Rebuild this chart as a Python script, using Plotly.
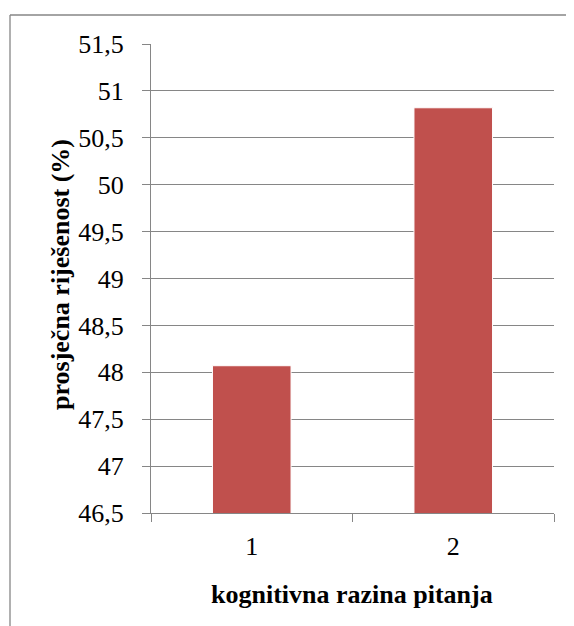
import plotly.graph_objects as go

categories = ["1", "2"]
values = [48.07, 50.82]
y_ticks = [46.5, 47, 47.5, 48, 48.5, 49, 49.5, 50, 50.5, 51, 51.5]
y_tick_labels = ["46,5", "47", "47,5", "48", "48,5", "49", "49,5", "50", "50,5", "51", "51,5"]
x_title = "kognitivna razina pitanja"
y_title = "prosječna riješenost (%)"

OFF = 8  # page body margin
W, H = 574 - OFF, 626 - OFF
L, T = 151 - OFF, 44 - OFF
R, B = 20, 113
pw, ph = W - L - R, H - T - B

def px_x(p):
    return (p - OFF - L) / pw

def px_y(p):
    return (H - B - (p - OFF)) / ph

FONT = "Liberation Serif"
FS = 26
GRID = "#868686"

fig = go.Figure()
fig.add_trace(go.Bar(
    x=categories, y=values,
    marker=dict(color="#C0504D", line=dict(color="white", width=1)),
    width=0.39,
))

fig.update_layout(
    width=W, height=H,
    margin=dict(l=L, r=R, t=T, b=B),
    paper_bgcolor="white", plot_bgcolor="white",
    showlegend=False,
    font=dict(family=FONT, size=FS, color="black"),
)
fig.update_xaxes(
    type="category",
    showline=True, linecolor=GRID, linewidth=1.3,
    ticks="outside", tickson="boundaries", ticklen=8, tickcolor=GRID, tickwidth=1.3,
    showgrid=False,
    tickfont=dict(family=FONT, size=FS, color="black"),
    ticklabelstandoff=10,
)
fig.update_yaxes(
    range=[46.5, 51.5],
    tickvals=y_ticks, ticktext=y_tick_labels,
    showline=True, linecolor=GRID, linewidth=1.3,
    ticks="outside", ticklen=8, tickcolor=GRID, tickwidth=1.3,
    showgrid=True, gridcolor=GRID, gridwidth=1.3,
    zeroline=False,
    tickfont=dict(family=FONT, size=FS, color="black"),
    ticklabelstandoff=13,
)

# axis titles
fig.add_annotation(
    text="<b>" + x_title + "</b>", xref="paper", yref="paper",
    x=px_x(352), y=px_y(594), showarrow=False,
    font=dict(family=FONT, size=FS, color="black"),
    xanchor="center", yanchor="middle",
)
fig.add_annotation(
    text="<b>" + y_title + "</b>", xref="paper", yref="paper",
    x=px_x(60), y=px_y(275), showarrow=False, textangle=-90,
    font=dict(family=FONT, size=FS, color="black"),
    xanchor="center", yanchor="middle",
)

# chart border (top and left visible)
fig.add_shape(type="line", xref="paper", yref="paper",
              x0=px_x(10), x1=px_x(600), y0=px_y(15), y1=px_y(15),
              line=dict(color=GRID, width=1.3))
fig.add_shape(type="line", xref="paper", yref="paper",
              x0=px_x(10), x1=px_x(10), y0=px_y(15), y1=px_y(650),
              line=dict(color=GRID, width=1.3))

fig.write_html("out.html")
